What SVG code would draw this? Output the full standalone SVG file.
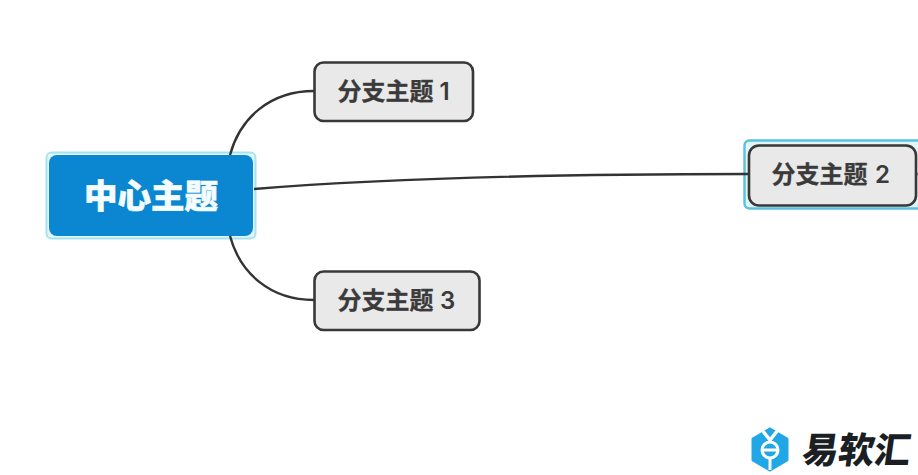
<svg xmlns="http://www.w3.org/2000/svg" width="918" height="475" viewBox="0 0 918 475">
<style>
.conn{fill:none;stroke:#333;stroke-width:2.400;stroke-linecap:butt}
.box{fill:#e9e9e9;stroke:#383838;stroke-width:2.600}
.lbl{font-family:"Noto Sans CJK SC","Noto Sans",sans-serif;font-weight:700;font-size:24px;fill:#3a3a3a;stroke:#3a3a3a;stroke-width:.3}
.num{font-family:"Inter","Noto Sans",sans-serif;font-weight:600;font-size:24px;fill:#3a3a3a}
</style>
<rect width="918" height="475" fill="#fff"/>
<g id="center">
<rect x="46.500" y="152.500" width="209" height="86" rx="5" fill="#e4f7fc" stroke="#a5e3f1" stroke-width="2"/>
<rect x="49" y="155" width="204" height="81" rx="8" fill="#0a87d0"/>
<text x="151" y="207.500" text-anchor="middle" font-family="'Noto Sans CJK SC',sans-serif" font-weight="900" font-size="33.500" fill="#f4fcff" stroke="#f4fcff" stroke-width=".6">中心主题</text>
</g>
<g id="branch1">
<rect class="box" x="314.500" y="62.500" width="158.500" height="58.500" rx="9"/>
<text class="lbl" x="337.500" y="100">分支主题</text>
<text class="num" x="439.500" y="99.500">1</text>
</g>
<g id="branch2">
<rect x="744.500" y="140.500" width="180" height="68" rx="5" fill="#dff5fa" stroke="#5cc1dc" stroke-width="2.400"/>
<rect class="box" x="749" y="145.500" width="167" height="60" rx="10"/>
<text class="lbl" x="771.500" y="183">分支主题</text>
<text class="num" x="875" y="183">2</text>
</g>
<g id="branch3">
<rect class="box" x="314.500" y="271.500" width="165" height="58.500" rx="9"/>
<text class="lbl" x="337.500" y="309">分支主题</text>
<text class="num" x="440" y="309">3</text>
</g>
<g id="connectors">
<path class="conn" d="M230 155C240 118 270 91 314 91"/>
<path class="conn" d="M254 189C400 177 600 174 749 174"/>
<path class="conn" d="M230 236C240 273 270 300 314 300"/>
<path class="conn" d="M916 174H918" stroke-opacity=".6"/>
</g>
<g id="logo">
<path d="M770 429L787 439V460L770 470L753 460V439Z" fill="#22a7e6" stroke="#22a7e6" stroke-width="3" stroke-linejoin="round"/>
<path d="M762 430L770 440L778 430" fill="none" stroke="#fff" stroke-width="3.500"/>
<circle cx="770" cy="450" r="8" fill="none" stroke="#fff" stroke-width="3"/>
<path d="M763 450H777M770 458V470" fill="none" stroke="#fff" stroke-width="3"/>
<text x="0" y="0" transform="translate(801 463) skewX(-8)" font-family="'Noto Sans CJK SC',sans-serif" font-weight="900" font-size="36" fill="#1b1f24">易软汇</text>
</g>
</svg>
